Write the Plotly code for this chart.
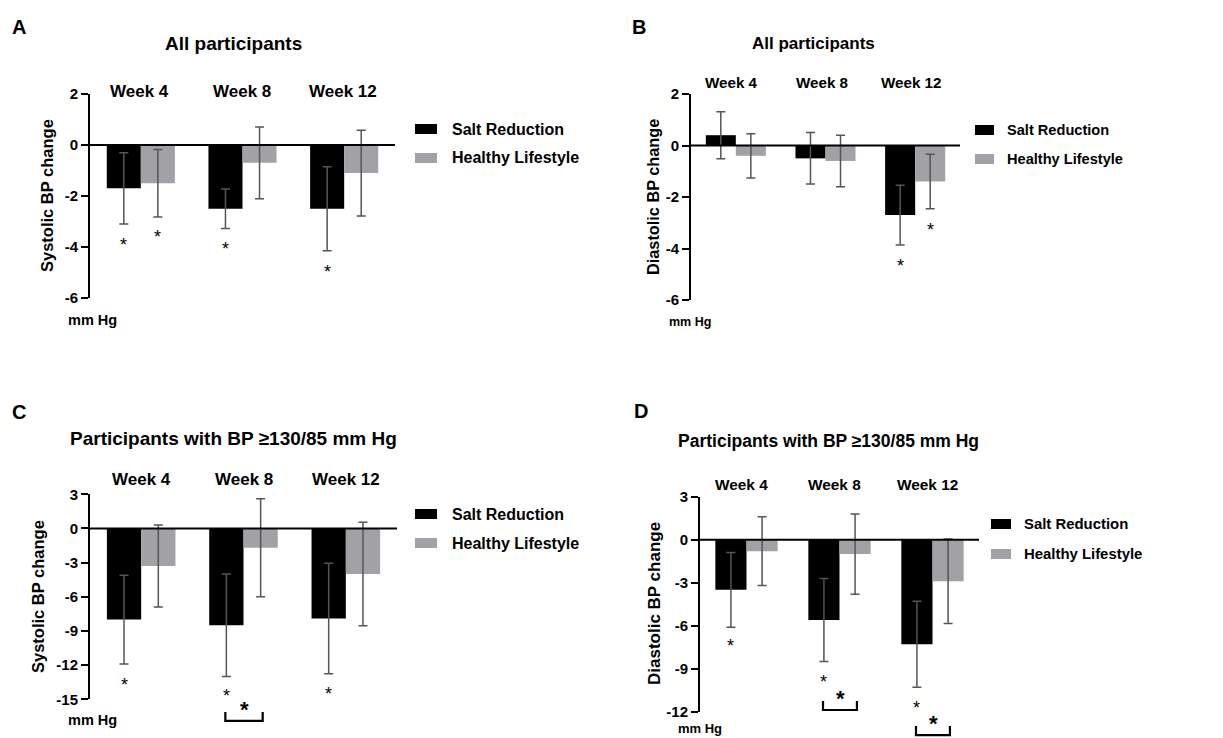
import plotly.graph_objects as go

W, H = 1223, 738
FONT = "Liberation Sans, Arial, Helvetica, sans-serif"

# ---------------- data ----------------
weeks = ["Week 4", "Week 8", "Week 12"]
xpos = [0, 1, 2]
series_names = ["Salt Reduction", "Healthy Lifestyle"]

# Panel A: systolic, all participants
a_salt = [-1.7, -2.5, -2.5]
a_salt_err = [1.40, 0.77, 1.65]
a_life = [-1.5, -0.7, -1.1]
a_life_err = [1.32, 1.41, 1.68]
a_star_salt = [-3.73, -3.90, -4.80]
a_star_life = [-3.43, None, None]
a_bracket = [None, None, None]

# Panel B: diastolic, all participants
b_salt = [0.4, -0.5, -2.7]
b_salt_err = [0.91, 1.00, 1.16]
b_life = [-0.4, -0.6, -1.4]
b_life_err = [0.86, 1.00, 1.06]
b_star_salt = [None, None, -4.50]
b_star_life = [None, None, -3.08]
b_bracket = [None, None, None]

# Panel C: systolic, BP >= 130/85
c_salt = [-8.0, -8.5, -7.9]
c_salt_err = [3.90, 4.50, 4.85]
c_life = [-3.3, -1.7, -4.0]
c_life_err = [3.60, 4.30, 4.55]
c_star_salt = [-13.3, -14.3, -14.1]
c_star_life = [None, None, None]
c_bracket = [None, -16.9, None]

# Panel D: diastolic, BP >= 130/85
d_salt = [-3.5, -5.6, -7.3]
d_salt_err = [2.60, 2.90, 3.00]
d_life = [-0.8, -1.0, -2.9]
d_life_err = [2.40, 2.80, 2.95]
d_star_salt = [-7.1, -9.56, -11.4]
d_star_life = [None, None, None]
d_bracket = [None, -11.88, -13.63]

a_ticks = [2, 0, -2, -4, -6]
b_ticks = [2, 0, -2, -4, -6]
c_ticks = [3, 0, -3, -6, -9, -12, -15]
d_ticks = [3, 0, -3, -6, -9, -12]

SALT_COLOR = "#000000"
LIFE_COLOR = "#a2a2a6"
ERR_COLOR = "#555555"

# ---------------- layout geometry (pixels) and text sizes ----------------
panels = [
    dict(key="", letter="A", title="All participants", ytitle="Systolic BP change",
         salt=a_salt, salt_err=a_salt_err, life=a_life, life_err=a_life_err,
         star_salt=a_star_salt, star_life=a_star_life, bracket=a_bracket, ticks=a_ticks,
         xd=(90, 395), yd=(94, 298), letter_xy=(19, 27), title_xy=(233, 43),
         week_y=91, week_dx=-1, mm_xy=(92, 320), yt_xy=(47, 196), leg=(415, 450, 129, 158, 22),
         fs=dict(title=19, week=17, legend=16, mm=14.5, ytitle=16.5)),
    dict(key="2", letter="B", title="All participants", ytitle="Diastolic BP change",
         salt=b_salt, salt_err=b_salt_err, life=b_life, life_err=b_life_err,
         star_salt=b_star_salt, star_life=b_star_life, bracket=b_bracket, ticks=b_ticks,
         xd=(691, 960), yd=(94, 300), letter_xy=(639, 27), title_xy=(813, 43),
         week_y=82, week_dx=-4, mm_xy=(690, 322), yt_xy=(653, 197), leg=(975, 1005, 130, 159, 19),
         fs=dict(title=17, week=15.2, legend=14.6, mm=12.5, ytitle=16.3)),
    dict(key="3", letter="C", title="Participants with BP \u2265130/85 mm Hg", ytitle="Systolic BP change",
         salt=c_salt, salt_err=c_salt_err, life=c_life, life_err=c_life_err,
         star_salt=c_star_salt, star_life=c_star_life, bracket=c_bracket, ticks=c_ticks,
         xd=(90, 397), yd=(494.3, 699.3), letter_xy=(19, 412), title_xy=(233, 439),
         week_y=479, week_dx=0, mm_xy=(92, 720), yt_xy=(38, 597), leg=(415, 450, 514, 543, 22),
         fs=dict(title=19, week=17, legend=16, mm=14.5, ytitle=16.5)),
    dict(key="4", letter="D", title="Participants with BP \u2265130/85 mm Hg", ytitle="Diastolic BP change",
         salt=d_salt, salt_err=d_salt_err, life=d_life, life_err=d_life_err,
         star_salt=d_star_salt, star_life=d_star_life, bracket=d_bracket, ticks=d_ticks,
         xd=(700, 979), yd=(496.7, 711.7), letter_xy=(641, 411), title_xy=(828, 441),
         week_y=484, week_dx=-5, mm_xy=(700, 728), yt_xy=(654, 603), leg=(991, 1022, 524, 554, 20),
         fs=dict(title=17.5, week=15.4, legend=14.9, mm=13, ytitle=17)),
]


def px(x):
    return x / W


def py(y):
    return 1 - y / H


BARGAP = 0.33
HALF = (1 - BARGAP) / 4  # offset from group centre to each bar centre

fig = go.Figure()
layout = dict(
    width=W, height=H, margin=dict(l=0, r=0, t=0, b=0, pad=0, autoexpand=False),
    paper_bgcolor="white", plot_bgcolor="white",
    barmode="group", bargap=BARGAP, bargroupgap=0,
    showlegend=False, font=dict(family=FONT, color="black"),
)
annotations = []
shapes = []

for p in panels:
    k = p["key"]
    xa, ya = "x" + k, "y" + k
    ymax, ymin = p["ticks"][0], p["ticks"][-1]
    fs = p["fs"]

    fig.add_trace(go.Bar(
        x=xpos, y=p["salt"], name=series_names[0], marker=dict(color=SALT_COLOR, line=dict(width=0)),
        error_y=dict(type="data", array=p["salt_err"], color=ERR_COLOR, thickness=1.5, width=4.5),
        xaxis=xa, yaxis=ya, offsetgroup="salt"))
    fig.add_trace(go.Bar(
        x=xpos, y=p["life"], name=series_names[1], marker=dict(color=LIFE_COLOR, line=dict(width=0)),
        error_y=dict(type="data", array=p["life_err"], color=ERR_COLOR, thickness=1.5, width=4.5),
        xaxis=xa, yaxis=ya, offsetgroup="life"))

    layout["xaxis" + k] = dict(
        domain=[px(p["xd"][0]), px(p["xd"][1])], range=[-0.5, 2.5], anchor=ya, automargin=False,
        showline=False, showticklabels=False, ticks="", showgrid=False, zeroline=False, fixedrange=True)
    layout["yaxis" + k] = dict(
        domain=[py(p["yd"][1]), py(p["yd"][0])], range=[ymin, ymax], anchor=xa, automargin=False,
        showline=True, linecolor="black", linewidth=2, ticks="outside", ticklen=7, tickwidth=2,
        tickcolor="black", tickvals=p["ticks"], ticktext=[str(t) for t in p["ticks"]],
        tickfont=dict(family=FONT, size=15, color="black", weight="bold"),
        showgrid=False, zeroline=False, fixedrange=True)

    # zero line across the plot
    shapes.append(dict(type="line", xref=xa + " domain", yref=ya, x0=0, x1=1, y0=0, y1=0,
                       line=dict(color="black", width=2), layer="above"))

    # week labels on top
    for i, w in zip(xpos, weeks):
        annotations.append(dict(text=w, x=i, xref=xa, y=py(p["week_y"]), yref="paper",
                                xshift=p["week_dx"], showarrow=False, xanchor="center", yanchor="middle",
                                font=dict(family=FONT, size=fs["week"], weight="bold")))

    # significance stars
    for i in xpos:
        for off, vals in ((-HALF, p["star_salt"]), (HALF, p["star_life"])):
            v = vals[i]
            if v is None:
                continue
            annotations.append(dict(text="*", x=i + off, xref=xa, y=v, yref=ya, showarrow=False,
                                    xanchor="center", yanchor="middle", yshift=-5,
                                    font=dict(family=FONT, size=18)))

    # between-group brackets (may extend below the axis, so use domain coordinates)
    hpx = p["yd"][1] - p["yd"][0]
    for i in xpos:
        v = p["bracket"][i]
        if v is None:
            continue
        fx0 = (i - HALF - 0.01 + 0.5) / 3
        fx1 = (i + HALF + 0.02 + 0.5) / 3
        fxm = (i + 0.01 + 0.5) / 3
        fb = (v - ymin) / (ymax - ymin)
        ft = fb + 9 / hpx
        shapes.append(dict(type="path", xref=xa + " domain", yref=ya + " domain",
                           path=f"M{fx0},{ft} L{fx0},{fb} L{fx1},{fb} L{fx1},{ft}",
                           line=dict(color="black", width=2.2)))
        annotations.append(dict(text="*", x=fxm, xref=xa + " domain", y=fb, yref=ya + " domain",
                                showarrow=False, xanchor="center", yanchor="bottom", yshift=-2,
                                borderpad=0, font=dict(family=FONT, size=22, weight="bold")))

    # panel letter and title
    annotations.append(dict(text=p["letter"], x=px(p["letter_xy"][0]), y=py(p["letter_xy"][1]),
                            xref="paper", yref="paper", showarrow=False, xanchor="center", yanchor="middle",
                            font=dict(family=FONT, size=20, weight="bold")))
    annotations.append(dict(text=p["title"], x=px(p["title_xy"][0]), y=py(p["title_xy"][1]),
                            xref="paper", yref="paper", showarrow=False, xanchor="center", yanchor="middle",
                            font=dict(family=FONT, size=fs["title"], weight="bold")))
    # y axis title
    annotations.append(dict(text=p["ytitle"], x=px(p["yt_xy"][0]), y=py(p["yt_xy"][1]),
                            xref="paper", yref="paper", showarrow=False, textangle=-90,
                            xanchor="center", yanchor="middle",
                            font=dict(family=FONT, size=fs["ytitle"], weight="bold")))
    # unit label
    annotations.append(dict(text="mm Hg", x=px(p["mm_xy"][0]), y=py(p["mm_xy"][1]),
                            xref="paper", yref="paper", showarrow=False, xanchor="center", yanchor="middle",
                            borderpad=0, font=dict(family=FONT, size=fs["mm"], weight="bold")))

    # legend
    lx, tx, r1, r2, lw = p["leg"]
    for (ry, col, name) in ((r1, SALT_COLOR, series_names[0]), (r2, LIFE_COLOR, series_names[1])):
        shapes.append(dict(type="rect", xref="paper", yref="paper",
                           x0=px(lx), x1=px(lx + lw), y0=py(ry + 5), y1=py(ry - 5),
                           fillcolor=col, line=dict(width=0)))
        annotations.append(dict(text=name, x=px(tx), y=py(ry), xref="paper", yref="paper",
                                showarrow=False, xanchor="left", yanchor="middle",
                                font=dict(family=FONT, size=fs["legend"], weight="bold")))

layout["annotations"] = annotations
layout["shapes"] = shapes
fig.update_layout(**layout)
fig.write_html(
    "out.html",
    config={"displayModeBar": False},
    post_script="document.body.style.margin='0';document.body.style.padding='0';"
                "document.body.style.overflow='hidden';",
)
